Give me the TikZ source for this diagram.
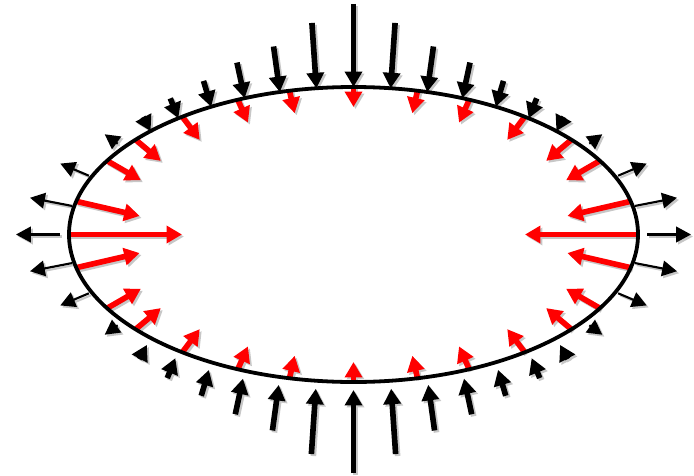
\documentclass[tikz,border=0pt]{standalone}
\usepackage{tikz}
\usetikzlibrary{arrows.meta}
\tikzset{
  rim/.style={line width=2.7pt, black},
  pushin/.style={-{Triangle[length=11pt, width=12pt]}, line width=4pt, #1},
  pushin/.default={black},
  pushout/.style={-{Triangle[length=10.5pt, width=11pt]}, line width=1.5pt, #1},
  pushout/.default={black},
  pull/.style={-{Triangle[length=11pt, width=12pt]}, line width=4pt, #1},
  pull/.default={red},
  shade/.style={shift={(2,-2)}},
}
\colorlet{shadow}{black!22}

\begin{document}
\begin{tikzpicture}[x=0.025cm, y=0.025cm]
\useasboundingbox (-353.5,-240.5) rectangle (340.5,234.5);
% black arrows pressing on top and bottom
\foreach \base/\gap in {90/0, 270/8} {
  \foreach \d/\len in {0/83, 7.5/65.5, -7.5/65.5, 15/46, -15/46, 22.5/36.5, -22.5/36.5,
                       30/27, -30/27, 38/21.5, -38/21.5, 45.5/16, -45.5/16} {
    \pgfmathsetmacro\t{\base+\d}
    \pgfmathsetmacro\dir{atan2(284.5*sin(\t),147.5*cos(\t))}
    \pgfmathsetmacro\far{\gap+\len}
    \draw[pushin=shadow, shade] (\t:284.5 and 147.5) ++(\dir:\far) -- ++(\dir+180:\len);
    \draw[pushin] (\t:284.5 and 147.5) ++(\dir:\far) -- ++(\dir+180:\len);
  }
}
% black arrows pulling out at the sides
\foreach \base in {0, 180} {
  \foreach \d/\len/\gap in {0/44/9, 11/43/2, -11/43/2, 23/31/3, -23/31/3, 36/16/7, -36/16/7} {
    \pgfmathsetmacro\t{\base+\d}
    \draw[pushout=shadow, shade] (\t:284.5 and 147.5) ++(\t:\gap) -- ++(\t:\len);
    \draw[pushout] (\t:284.5 and 147.5) ++(\t:\gap) -- ++(\t:\len);
  }
}
% red arrows inside
\foreach \base in {0, 180} {
  \foreach \d/\len in {0/113, 13/65, -13/65, 30/39, -30/39, 40/33, -40/33,
                       53/29, -53/29, 66/25, -66/25, 77/23, -77/23, 90/20} {
    \pgfmathsetmacro\t{\base+\d}
    \draw[pull=shadow, shade] (\t:284.5 and 147.5) -- ++(\t+180:\len);
    \draw[pull] (\t:284.5 and 147.5) -- ++(\t+180:\len);
  }
}
% the hole
\draw[rim] (0,0) ellipse [x radius=284.5, y radius=147.5];
\end{tikzpicture}
\end{document}
